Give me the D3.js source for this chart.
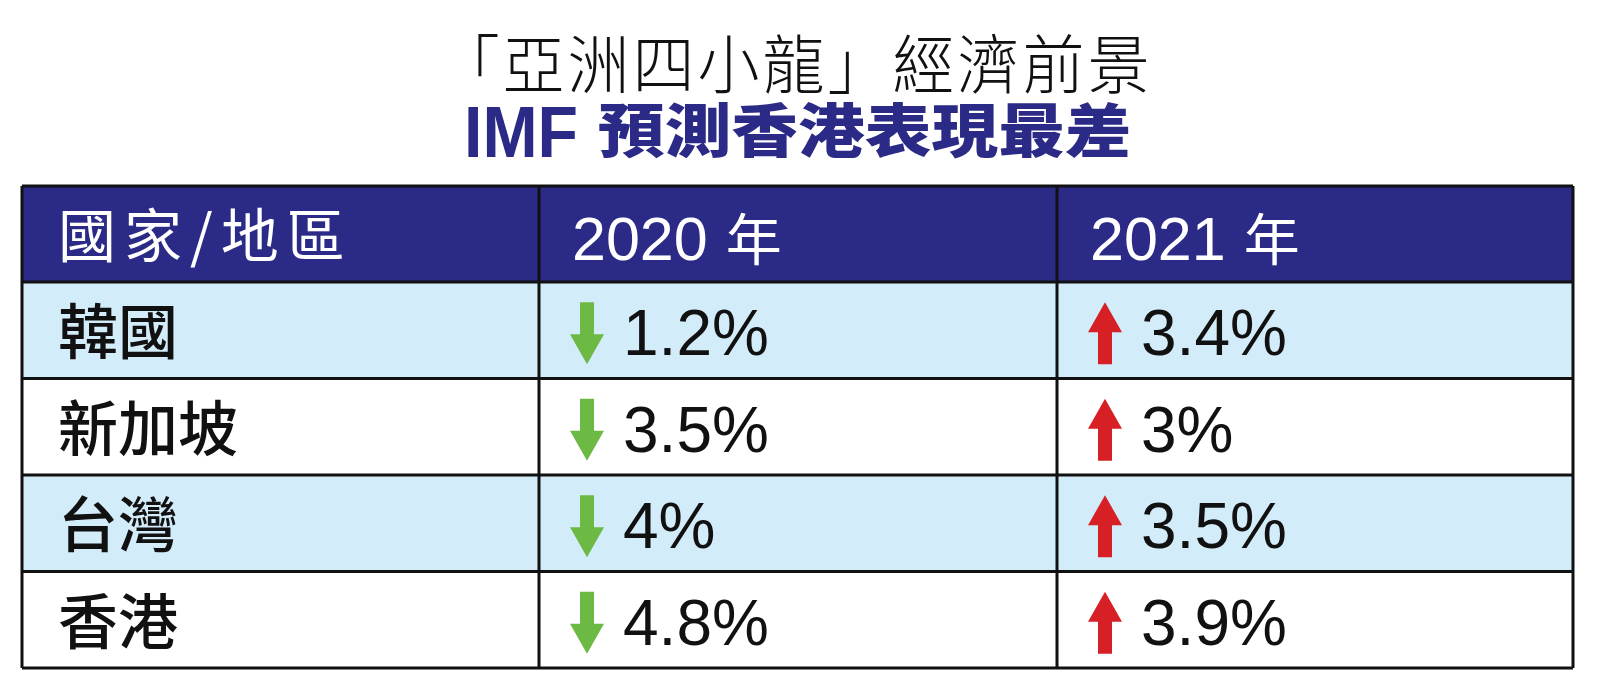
<!DOCTYPE html>
<html><head><meta charset="utf-8">
<script src="https://cdn.jsdelivr.net/npm/d3@7"></script>
<style>
html,body{margin:0;padding:0;background:#fff;}
svg{display:block;}
</style></head>
<body>
<svg id="chart" width="1600" height="692"></svg>
<script>
const titleLine1 = "「亞洲四小龍」經濟前景";
const titleLine2a = "IMF";
const titleLine2b = "預測香港表現最差";
const headers = ["國家/地區", "2020年", "2021年"];
const regions = ["韓國", "新加坡", "台灣", "香港"];
const growth2020 = [-1.2, -3.5, -4, -4.8];
const growth2021 = [3.4, 3, 3.5, 3.9];

const W = 1600, H = 692;
const svg = d3.select("#chart");
svg.append("rect").attr("width", W).attr("height", H).attr("fill", "#fff");

const navy = "#2b2a86", lightBlue = "#d3ecf9", green = "#6cb944", red = "#d71f26";
const cjk = "'Noto Sans CJK TC','Noto Sans CJK SC',sans-serif";
const latin = "'Liberation Sans',Arial,sans-serif";

// Titles
svg.append("text")
  .attr("transform", "translate(795,88) scale(0.97,1)")
  .attr("text-anchor", "middle")
  .attr("font-family", cjk).attr("font-weight", 300)
  .attr("font-size", 64).attr("letter-spacing", 3)
  .attr("fill", "#111")
  .text(titleLine1);

svg.append("text")
  .attr("transform", "translate(464,157) scale(0.92,1)")
  .attr("font-family", latin).attr("font-weight", 700)
  .attr("font-size", 72).attr("fill", navy)
  .text(titleLine2a);
svg.append("text")
  .attr("transform", "translate(598,152) scale(1.15,1)")
  .attr("font-family", cjk).attr("font-weight", 900)
  .attr("font-size", 58).attr("fill", navy)
  .text(titleLine2b);

// Table geometry via scales
const colEdges = [22, 539, 1057, 1573];
const x = d3.scaleOrdinal().domain([0,1,2]).range(colEdges.slice(0,3));
const tableTop = 186, headerBottom = 282, tableBottom = 668;
const y = d3.scaleBand().domain(regions).range([headerBottom, tableBottom]).padding(0);

// header
svg.append("rect").attr("x", colEdges[0]).attr("y", tableTop)
  .attr("width", colEdges[3]-colEdges[0]).attr("height", headerBottom-tableTop)
  .attr("fill", navy);

// row backgrounds
svg.selectAll("rect.row").data(regions).join("rect")
  .attr("class", "row")
  .attr("x", colEdges[0]).attr("y", d => y(d))
  .attr("width", colEdges[3]-colEdges[0]).attr("height", y.bandwidth())
  .attr("fill", (d,i) => i % 2 === 0 ? lightBlue : "#fff");

// header texts
const hdr = svg.append("g");
hdr.append("text").attr("x", 58).attr("y", 257)
  .attr("font-family", cjk).attr("font-size", 58).attr("fill", "#fff")
  .attr("letter-spacing", 8)
  .text(headers[0]);
[1,2].forEach(i => {
  const m = headers[i].match(/^(\d+)(.*)$/);
  const t = hdr.append("text").attr("x", x(i) + 33).attr("y", 260).attr("fill", "#fff");
  t.append("tspan").attr("font-family", latin).attr("font-size", 61).text(m[1]);
  t.append("tspan").attr("font-family", cjk).attr("font-size", 56).attr("dx", 18).text(m[2]);
});

// row labels
svg.selectAll("text.region").data(regions).join("text")
  .attr("class", "region")
  .attr("x", 58).attr("y", d => y(d) + y.bandwidth()/2 + 24)
  .attr("font-family", cjk).attr("font-weight", 500)
  .attr("font-size", 60).attr("fill", "#111")
  .text(d => d);

// arrows
function arrowPath(cx, cy, up) {
  const hw = 17, sw = 7, total = 62, headH = 30;
  const top = cy - total/2, bot = cy + total/2;
  if (up) {
    return `M${cx},${top} L${cx+hw},${top+headH} L${cx+sw},${top+headH} L${cx+sw},${bot} L${cx-sw},${bot} L${cx-sw},${top+headH} L${cx-hw},${top+headH} Z`;
  }
  return `M${cx},${bot} L${cx+hw},${bot-headH} L${cx+sw},${bot-headH} L${cx+sw},${top} L${cx-sw},${top} L${cx-sw},${bot-headH} L${cx-hw},${bot-headH} Z`;
}
const fmt = v => Math.abs(v) + "%";
const cols = [
  {data: growth2020, col: 1},
  {data: growth2021, col: 2}
];
cols.forEach(c => {
  const g = svg.append("g");
  g.selectAll("path").data(c.data).join("path")
    .attr("d", (v,i) => arrowPath(x(c.col) + 48, y(regions[i]) + y.bandwidth()/2 + 3, v > 0))
    .attr("fill", v => v > 0 ? red : green);
  g.selectAll("text").data(c.data).join("text")
    .attr("x", x(c.col) + 84)
    .attr("y", (v,i) => y(regions[i]) + y.bandwidth()/2 + 25)
    .attr("font-family", latin).attr("font-size", 64).attr("fill", "#111")
    .text(fmt);
});

// grid lines
const lines = svg.append("g").attr("stroke", "#111").attr("stroke-width", 3).attr("fill", "none");
[tableTop, headerBottom, ...regions.slice(1).map(r => y(r)), tableBottom].forEach(yy => {
  lines.append("line").attr("x1", colEdges[0]).attr("x2", colEdges[3]).attr("y1", yy).attr("y2", yy);
});
colEdges.forEach(xx => {
  lines.append("line").attr("x1", xx).attr("x2", xx).attr("y1", tableTop).attr("y2", tableBottom);
});
</script>
</body></html>
